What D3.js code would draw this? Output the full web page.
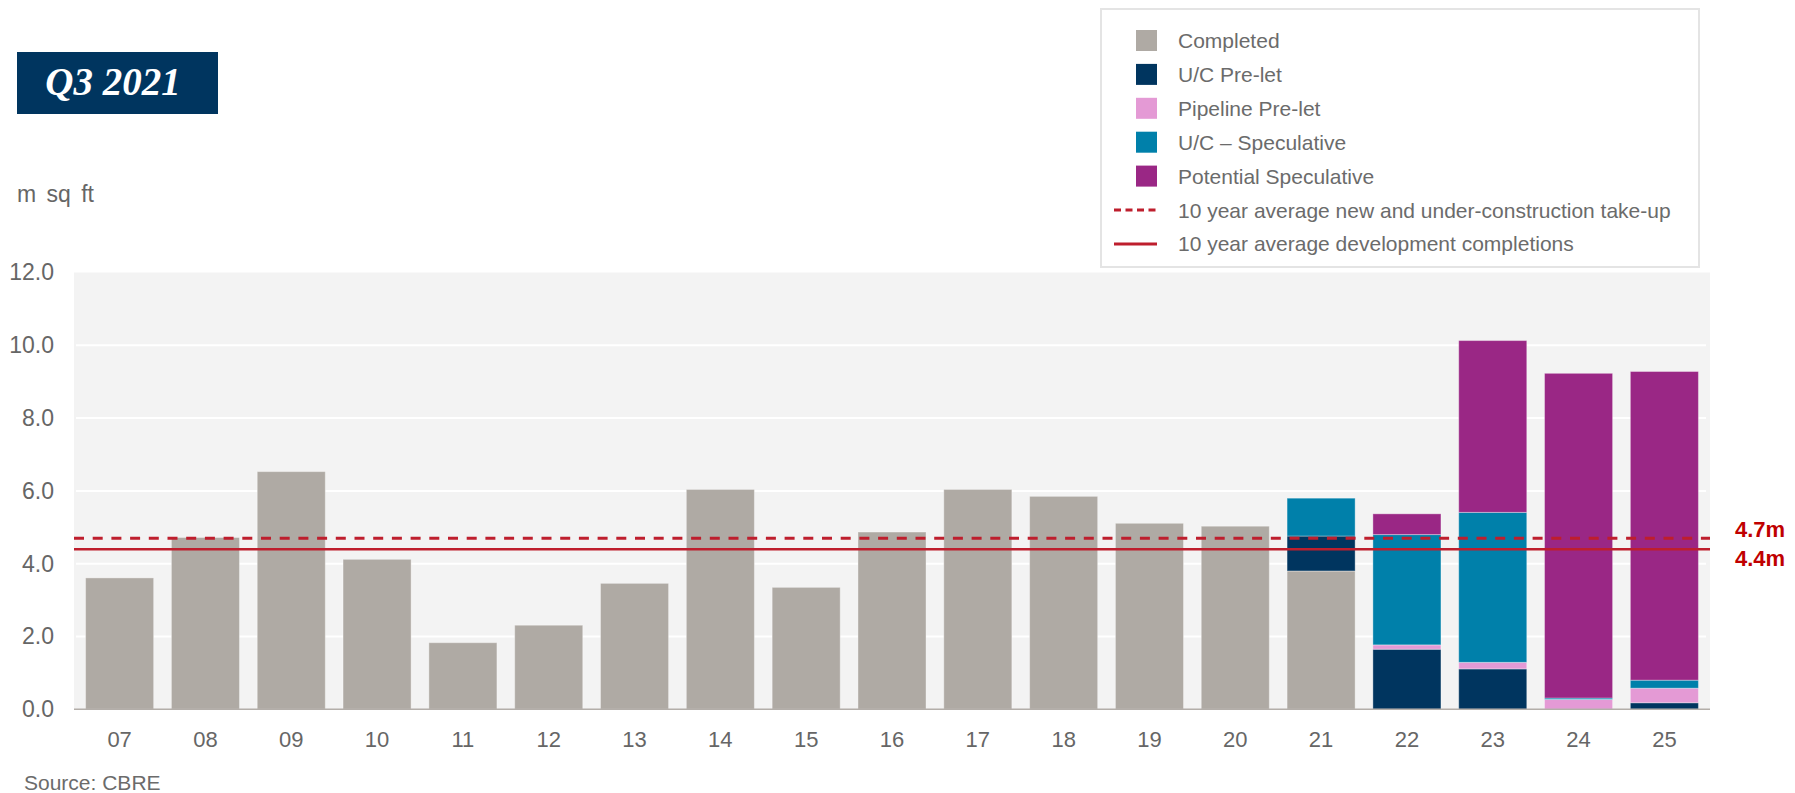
<!DOCTYPE html>
<html>
<head>
<meta charset="utf-8">
<script src="https://cdn.jsdelivr.net/npm/d3@7/dist/d3.min.js"></script>
<style>
  html, body { margin: 0; padding: 0; background: #ffffff; }
  svg { display: block; }
  text { font-family: "Liberation Sans", Arial, Helvetica, sans-serif; }
</style>
</head>
<body>
<svg id="chart" width="1795" height="793"></svg>
<script>
// Development pipeline by year (m sq ft)
const years = ["07","08","09","10","11","12","13","14","15","16","17","18","19","20","21","22","23","24","25"];

const completed      = [3.61, 4.72, 6.53, 4.12, 1.83, 2.31, 3.46, 6.04, 3.35, 4.87, 6.04, 5.85, 5.11, 5.03, 3.80, 0, 0, 0, 0];
const ucPreLet       = [0, 0, 0, 0, 0, 0, 0, 0, 0, 0, 0, 0, 0, 0, 0.96, 1.65, 1.11, 0, 0.18];
const pipelinePreLet = [0, 0, 0, 0, 0, 0, 0, 0, 0, 0, 0, 0, 0, 0, 0, 0.12, 0.18, 0.27, 0.40];
const ucSpeculative  = [0, 0, 0, 0, 0, 0, 0, 0, 0, 0, 0, 0, 0, 0, 1.04, 3.03, 4.12, 0.04, 0.22];
const potentialSpec  = [0, 0, 0, 0, 0, 0, 0, 0, 0, 0, 0, 0, 0, 0, 0, 0.57, 4.72, 8.92, 8.48];

const seriesNames  = ["Completed", "U/C Pre-let", "Pipeline Pre-let", "U/C \u2013 Speculative", "Potential Speculative"];
const seriesColors = ["#afaaa4", "#00355f", "#e49ad5", "#0080aa", "#9a2785"];
const seriesValues = [completed, ucPreLet, pipelinePreLet, ucSpeculative, potentialSpec];

// Ten-year averages
const avgTakeUp = 4.7;
const avgCompletions = 4.4;
const avgNames = ["10 year average new and under-construction take-up", "10 year average development completions"];

const yTicks = [0, 2, 4, 6, 8, 10, 12];

const svg = d3.select("#chart");

const plot = { left: 74, right: 1710, top: 272.5, bottom: 709.3 };

const x = d3.scaleBand()
  .domain(years)
  .range([plot.left, plot.right])
  .paddingInner(0.207)
  .paddingOuter(0.135);

const y = d3.scaleLinear()
  .domain([0, 12])
  .range([plot.bottom, plot.top]);

// Title badge
svg.append("rect")
  .attr("x", 17).attr("y", 52).attr("width", 201).attr("height", 62)
  .attr("fill", "#00355f");
svg.append("text")
  .attr("x", 113).attr("y", 95)
  .attr("text-anchor", "middle")
  .attr("fill", "#ffffff")
  .style("font-family", "'Liberation Serif', 'DejaVu Serif', serif")
  .style("font-weight", "bold")
  .style("font-style", "italic")
  .style("font-size", "39px")
  .text("Q3 2021");

// Unit label
svg.append("text")
  .attr("x", 17).attr("y", 202)
  .attr("fill", "#666666")
  .style("font-size", "23px")
  .style("word-spacing", "4px")
  .text("m sq ft");

// Plot background
svg.append("rect")
  .attr("x", plot.left).attr("y", plot.top)
  .attr("width", plot.right - plot.left).attr("height", plot.bottom - plot.top)
  .attr("fill", "#f3f3f3");

// Gridlines
svg.append("g")
  .selectAll("line")
  .data(yTicks.filter(d => d > 0 && d < 12))
  .join("line")
  .attr("x1", plot.left + 2).attr("x2", plot.right - 4)
  .attr("y1", d => y(d)).attr("y2", d => y(d))
  .attr("stroke", "#ffffff")
  .attr("stroke-width", 2);

// Stacked bars
const rows = years.map((yr, i) => {
  const r = { year: yr };
  seriesNames.forEach((s, k) => { r[s] = seriesValues[k][i]; });
  return r;
});
const stacked = d3.stack().keys(seriesNames)(rows);

svg.append("g")
  .selectAll("g")
  .data(stacked)
  .join("g")
  .attr("fill", (d, k) => seriesColors[k])
  .selectAll("rect")
  .data(d => d.filter(p => p[1] - p[0] > 0))
  .join("rect")
  .attr("x", d => x(d.data.year))
  .attr("width", x.bandwidth())
  .attr("y", d => y(d[1]))
  .attr("height", d => y(d[0]) - y(d[1]))
  .attr("stroke", "rgba(255,255,255,0.35)")
  .attr("stroke-width", 1);

// Baseline
svg.append("line")
  .attr("x1", plot.left).attr("x2", plot.right)
  .attr("y1", y(0)).attr("y2", y(0))
  .attr("stroke", "#b3aea9")
  .attr("stroke-width", 1.5);

// Average lines
svg.append("line")
  .attr("x1", plot.left).attr("x2", plot.right)
  .attr("y1", y(avgTakeUp)).attr("y2", y(avgTakeUp))
  .attr("stroke", "#be1e2d")
  .attr("stroke-width", 3)
  .attr("stroke-dasharray", "10 8.7");
svg.append("line")
  .attr("x1", plot.left).attr("x2", plot.right)
  .attr("y1", y(avgCompletions)).attr("y2", y(avgCompletions))
  .attr("stroke", "#be1e2d")
  .attr("stroke-width", 2.5);

// Average value labels
const fmtM = d => d3.format(".1f")(d) + "m";
svg.append("text")
  .attr("x", 1735).attr("y", y(avgTakeUp) - 1)
  .attr("fill", "#c00000")
  .style("font-size", "22px").style("font-weight", "bold")
  .text(fmtM(avgTakeUp));
svg.append("text")
  .attr("x", 1735).attr("y", y(avgCompletions) + 17)
  .attr("fill", "#c00000")
  .style("font-size", "22px").style("font-weight", "bold")
  .text(fmtM(avgCompletions));

// Axes
const yAxis = svg.append("g")
  .attr("transform", `translate(${plot.left},0)`)
  .call(d3.axisLeft(y).tickValues(yTicks).tickFormat(d3.format(".1f")).tickSize(0).tickPadding(20));
yAxis.select(".domain").remove();
yAxis.selectAll("text")
  .attr("fill", "#666666")
  .style("font-size", "23px")
  .style("font-family", "'Liberation Sans', Arial, sans-serif");

const xAxis = svg.append("g")
  .attr("transform", `translate(0,${plot.bottom})`)
  .call(d3.axisBottom(x).tickSize(0).tickPadding(22));
xAxis.select(".domain").remove();
xAxis.selectAll("text")
  .attr("fill", "#666666")
  .style("font-size", "22px")
  .style("font-family", "'Liberation Sans', Arial, sans-serif");

// Source note
svg.append("text")
  .attr("x", 24).attr("y", 790)
  .attr("fill", "#6b6b6b")
  .style("font-size", "21px")
  .text("Source: CBRE");

// Legend
const legend = svg.append("g");
legend.append("rect")
  .attr("x", 1101).attr("y", 9).attr("width", 598).attr("height", 258)
  .attr("fill", "#ffffff")
  .attr("stroke", "#e4e4e4")
  .attr("stroke-width", 2);

const rowY = i => 40.5 + i * 33.9;

seriesNames.forEach((name, i) => {
  legend.append("rect")
    .attr("x", 1136).attr("y", rowY(i) - 10.5)
    .attr("width", 21).attr("height", 21)
    .attr("fill", seriesColors[i]);
  legend.append("text")
    .attr("x", 1178).attr("y", rowY(i) + 7.5)
    .attr("fill", "#6b6b6b")
    .style("font-size", "21px")
    .text(name);
});

avgNames.forEach((name, j) => {
  const i = seriesNames.length + j;
  legend.append("line")
    .attr("x1", 1114).attr("x2", 1157)
    .attr("y1", rowY(i)).attr("y2", rowY(i))
    .attr("stroke", "#be1e2d")
    .attr("stroke-width", 3)
    .attr("stroke-dasharray", j === 0 ? "7 4.5" : null);
  legend.append("text")
    .attr("x", 1178).attr("y", rowY(i) + 7.5)
    .attr("fill", "#6b6b6b")
    .style("font-size", "21px")
    .text(name);
});
</script>
</body>
</html>
